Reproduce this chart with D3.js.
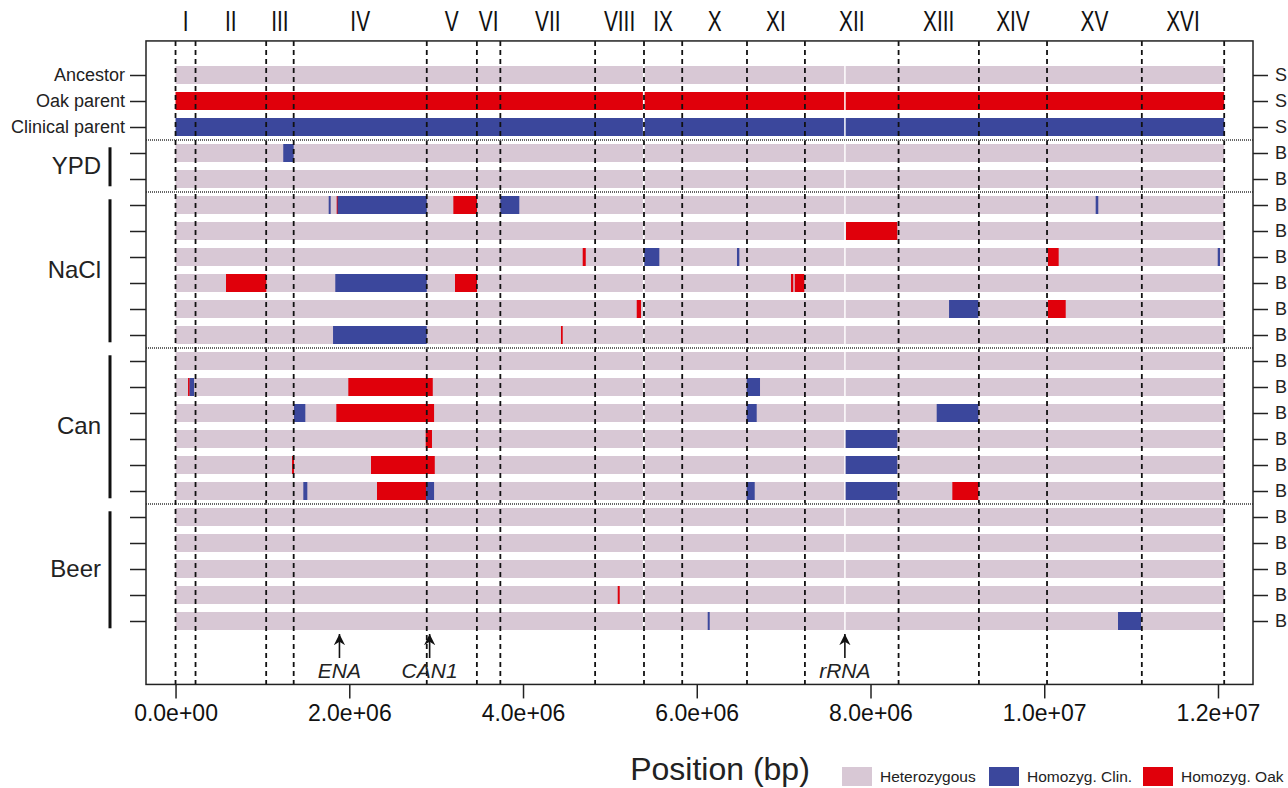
<!DOCTYPE html>
<html>
<head>
<meta charset="utf-8">
<script src="https://cdn.jsdelivr.net/npm/d3@7"></script>
<style>
  body { margin: 0; background: #fff; }
  svg { font-family: "Liberation Sans", Arial, sans-serif; }
</style>
</head>
<body>
<div id="chart"></div>
<script>
// chromosome names and lengths (bp)
const chromNames = ["I", "II", "III", "IV", "V", "VI", "VII", "VIII", "IX", "X", "XI", "XII", "XIII", "XIV", "XV", "XVI"];
const chromLengths = [230218, 813184, 316620, 1531933, 576874, 270161, 1090940, 562643, 439888, 745751, 666816, 1078177, 924431, 784333, 1091291, 948066];

// rows, top to bottom
const leftLabels = ["Ancestor", "Oak parent", "Clinical parent"];
const rightLabels = ["S", "S", "S", "B", "B", "B", "B", "B", "B", "B", "B", "B", "B", "B", "B", "B", "B", "B", "B", "B", "B", "B"];

// groups of evolved lines (first row, last row)
const groupNames = ["YPD", "NaCl", "Can", "Beer"];
const groupFirst = [3, 5, 11, 17];
const groupLast = [4, 10, 16, 21];

// heterozygous background pieces (Mb), with small gaps
const baseSegments = [[0, 5.380], [5.400, 7.697], [7.714, 12.071]];

// homozygous segments: row, start (Mb), end (Mb), type (C = clinical, O = oak)
const homRows   = [3, 5, 5, 5, 5, 5, 5, 6, 7, 7, 7, 7, 7, 8, 8, 8, 8, 8, 9, 9, 9, 10, 10,
                   12, 12, 12, 12, 13, 13, 13, 13, 14, 14, 15, 15, 15, 16, 16, 16, 16, 16, 16, 20, 21, 21];
const homStart  = [1.24, 1.763, 1.855, 1.865, 3.198, 3.739, 10.592, 7.718, 4.687, 5.396, 6.463, 10.043, 11.997,
                   0.581, 1.839, 3.217, 7.085, 7.128, 5.309, 8.904, 10.043, 1.813, 4.437,
                   0.144, 0.163, 1.989, 6.575, 1.364, 1.851, 6.575, 8.762, 2.880, 7.714, 1.341, 2.250, 7.714,
                   1.471, 2.319, 2.884, 6.575, 7.714, 8.942, 5.090, 6.126, 10.849];
const homEnd    = [1.36, 1.786, 1.865, 2.892, 3.470, 3.957, 10.622, 8.308, 4.722, 5.569, 6.490, 10.166, 12.023,
                   1.045, 2.892, 3.470, 7.111, 7.238, 5.358, 9.241, 10.247, 2.892, 4.457,
                   0.163, 0.213, 2.961, 6.728, 1.494, 2.976, 6.690, 9.241, 2.952, 8.308, 1.364, 2.984, 8.308,
                   1.517, 2.884, 2.976, 6.667, 8.308, 9.241, 5.113, 6.149, 11.114];
const homType   = ["C", "C", "O", "C", "O", "C", "C", "O", "O", "C", "C", "O", "C",
                   "O", "C", "O", "O", "O", "O", "C", "O", "C", "O",
                   "O", "C", "O", "C", "C", "O", "C", "C", "O", "C", "O", "O", "C",
                   "C", "O", "C", "C", "C", "O", "O", "C", "C"];

// marked loci
const lociNames = ["ENA", "CAN1", "rRNA"];
const lociPos = [1.887, 2.925, 7.705];

const tickValues = [0, 2e6, 4e6, 6e6, 8e6, 1e7, 1.2e7];
const legendLabels = ["Heterozygous", "Homozyg. Clin.", "Homozyg. Oak"];

const colHet = "#d8c8d5", colClin = "#3b479c", colOak = "#e0000b";

const W = 1288, H = 788;
const svg = d3.select("#chart").append("svg").attr("width", W).attr("height", H);

const x = d3.scaleLinear().domain([-0.34e6, 12.403e6]).range([146, 1253]);
const y = d3.scaleLinear().domain([0, 21]).range([75, 621]);
const yTop = y(-1.31), yBot = y(23.44);
const barH = 18;
const nRows = rightLabels.length;
const rows = d3.range(nRows);

// chromosome boundaries
const bounds = [0];
chromLengths.forEach(l => bounds.push(bounds[bounds.length - 1] + l));
const mids = chromLengths.map((l, i) => bounds[i] + l / 2);

// background bars
rows.forEach(r => {
  let fill = colHet;
  if (r === 1) fill = colOak;
  if (r === 2) fill = colClin;
  svg.append("g").selectAll("rect")
    .data(baseSegments).enter().append("rect")
    .attr("x", d => x(d[0] * 1e6))
    .attr("width", d => x(d[1] * 1e6) - x(d[0] * 1e6))
    .attr("y", y(r) - barH / 2)
    .attr("height", barH)
    .attr("fill", fill);
});

// homozygous segments
svg.append("g").selectAll("rect")
  .data(homRows.map((r, i) => ({ r: r, s: homStart[i], e: homEnd[i], t: homType[i] })))
  .enter().append("rect")
  .attr("x", d => x(d.s * 1e6))
  .attr("width", d => Math.max(1.5, x(d.e * 1e6) - x(d.s * 1e6)))
  .attr("y", d => y(d.r) - barH / 2)
  .attr("height", barH)
  .attr("fill", d => d.t === "C" ? colClin : colOak);

// chromosome boundary lines
svg.append("g").selectAll("line")
  .data(bounds).enter().append("line")
  .attr("x1", d => x(d)).attr("x2", d => x(d))
  .attr("y1", yTop).attr("y2", yBot)
  .attr("stroke", "#111").attr("stroke-width", 1.8)
  .attr("stroke-dasharray", "5,4");

// group separators
const seps = groupFirst.map(f => f - 0.5);
svg.append("g").selectAll("line")
  .data(seps).enter().append("line")
  .attr("x1", 146).attr("x2", 1253)
  .attr("y1", d => y(d)).attr("y2", d => y(d))
  .attr("stroke", "#666").attr("stroke-width", 2.2)
  .attr("stroke-dasharray", "1,1");

// box
svg.append("rect")
  .attr("x", 146).attr("y", yTop)
  .attr("width", 1253 - 146).attr("height", yBot - yTop)
  .attr("fill", "none").attr("stroke", "#222").attr("stroke-width", 1.5);

// chromosome labels
svg.append("g").selectAll("text")
  .data(chromNames).enter().append("text")
  .attr("transform", (d, i) => "translate(" + x(mids[i]) + ",31) scale(0.72,1)")
  .attr("text-anchor", "middle")
  .attr("font-size", 29)
  .attr("fill", "#111")
  .text(d => d);

// bottom axis
const fmt = d => {
  const p = d.toExponential(1).split("e");
  const sign = p[1][0];
  const ex = p[1].slice(1).padStart(2, "0");
  return p[0] + "e" + sign + ex;
};
const xAxis = svg.append("g")
  .attr("transform", "translate(0," + yBot + ")")
  .call(d3.axisBottom(x).tickValues(tickValues).tickFormat(fmt).tickSize(14).tickPadding(6));
xAxis.select(".domain").remove();
xAxis.selectAll("line").attr("stroke", "#222").attr("stroke-width", 1.5);
xAxis.selectAll("text").attr("font-size", 23).attr("fill", "#111")
  .attr("font-family", "'Liberation Sans', Arial, sans-serif");

// left axis
const yLeft = svg.append("g")
  .attr("transform", "translate(146,0)")
  .call(d3.axisLeft(y).tickValues(rows).tickSize(16).tickPadding(5)
    .tickFormat(d => d < leftLabels.length ? leftLabels[d] : ""));
yLeft.select(".domain").remove();
yLeft.selectAll("line").attr("stroke", "#222").attr("stroke-width", 1.5);
yLeft.selectAll("text").attr("font-size", 18).attr("fill", "#222")
  .attr("font-family", "'Liberation Sans', Arial, sans-serif");

// right axis
const yRight = svg.append("g")
  .attr("transform", "translate(1253,0)")
  .call(d3.axisRight(y).tickValues(rows).tickSize(15).tickPadding(7)
    .tickFormat(d => rightLabels[d]));
yRight.select(".domain").remove();
yRight.selectAll("line").attr("stroke", "#222").attr("stroke-width", 1.5);
yRight.selectAll("text").attr("font-size", 18).attr("fill", "#222")
  .attr("font-family", "'Liberation Sans', Arial, sans-serif");

// group brackets and labels
groupNames.forEach((g, i) => {
  svg.append("line")
    .attr("x1", 110).attr("x2", 110)
    .attr("y1", y(groupFirst[i] - 0.22)).attr("y2", y(groupLast[i] + 0.28))
    .attr("stroke", "#111").attr("stroke-width", 3);
  svg.append("text")
    .attr("x", 101)
    .attr("y", y((groupFirst[i] + groupLast[i]) / 2) + 8)
    .attr("text-anchor", "end")
    .attr("font-size", 24)
    .attr("fill", "#222")
    .text(g);
});

// loci arrows
svg.append("defs").append("marker")
  .attr("id", "ah").attr("viewBox", "0 0 10 10")
  .attr("refX", 10).attr("refY", 5)
  .attr("markerWidth", 7).attr("markerHeight", 8)
  .attr("orient", "auto")
  .append("path").attr("d", "M0,0 L10,5 L0,10 L3,5 Z").attr("fill", "#111");
lociNames.forEach((n, i) => {
  const px = x(lociPos[i] * 1e6);
  svg.append("line")
    .attr("x1", px).attr("x2", px).attr("y1", 658).attr("y2", 634)
    .attr("stroke", "#111").attr("stroke-width", 1.6)
    .attr("marker-end", "url(#ah)");
  svg.append("text")
    .attr("x", px).attr("y", 678)
    .attr("text-anchor", "middle")
    .attr("font-size", 21).attr("font-style", "italic")
    .attr("fill", "#222")
    .text(n);
});

// axis title
svg.append("text")
  .attr("x", 720).attr("y", 780)
  .attr("text-anchor", "middle")
  .attr("font-size", 32).attr("fill", "#222")
  .text("Position (bp)");

// legend
const legCols = [colHet, colClin, colOak];
const legX = [842, 989, 1143];
legendLabels.forEach((l, i) => {
  svg.append("rect")
    .attr("x", legX[i]).attr("y", 767).attr("width", 30).attr("height", 19)
    .attr("fill", legCols[i]);
  svg.append("text")
    .attr("x", legX[i] + 38).attr("y", 782)
    .attr("font-size", 15.5).attr("fill", "#222")
    .text(l);
});
</script>
</body>
</html>
